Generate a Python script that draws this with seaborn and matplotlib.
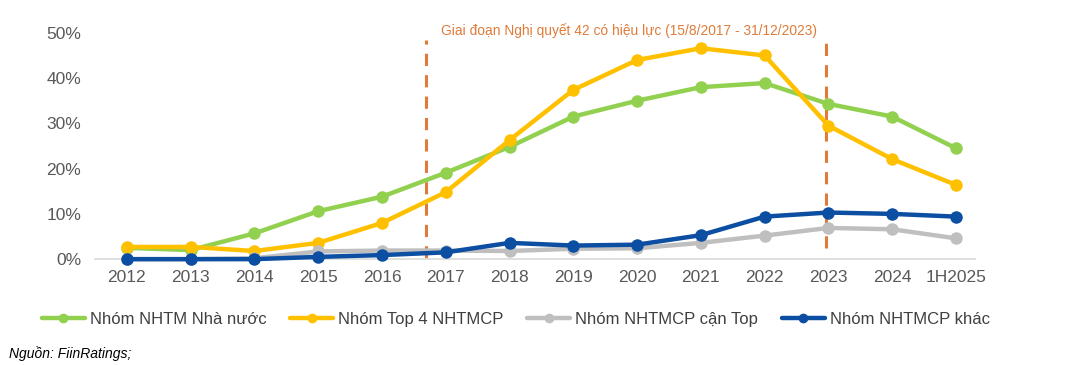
import matplotlib
matplotlib.use('Agg')
import matplotlib.pyplot as plt
import seaborn as sns
import pandas as pd

years = ['2012', '2013', '2014', '2015', '2016', '2017', '2018', '2019',
         '2020', '2021', '2022', '2023', '2024', '1H2025']

nha_nuoc = [2.5, 2.0, 5.7, 10.6, 13.8, 19.1, 24.8, 31.5, 35.0, 38.0, 38.9, 34.3, 31.5, 24.5]
top4 = [2.7, 2.7, 1.8, 3.6, 8.0, 14.8, 26.3, 37.4, 44.0, 46.6, 45.0, 29.5, 22.1, 16.4]
can_top = [0.0, 0.0, 0.2, 1.7, 1.9, 1.9, 1.8, 2.3, 2.4, 3.6, 5.2, 6.9, 6.6, 4.6]
khac = [0.0, 0.0, 0.0, 0.5, 0.9, 1.5, 3.6, 3.0, 3.2, 5.3, 9.4, 10.3, 10.0, 9.4]

groups = ['Nhóm NHTM Nhà nước', 'Nhóm Top 4 NHTMCP', 'Nhóm NHTMCP cận Top', 'Nhóm NHTMCP khác']
colors = ['#92D050', '#FFC000', '#BFBFBF', '#0B4EA2']

rows = []
for g, vals in zip(groups, [nha_nuoc, top4, can_top, khac]):
    for i, v in enumerate(vals):
        rows.append({'idx': i, 'val': v / 100, 'group': g})
df = pd.DataFrame(rows)

sns.set_style('white')
plt.rcParams['font.family'] = ['Liberation Sans', 'DejaVu Sans']

fig = plt.figure(figsize=(10.68, 3.65), dpi=100)
ax = fig.add_axes([0.089, 0.290, 0.824, 0.620])

# gray first so blue sits on top, like the original
order = [2, 0, 1, 3]
for k in order:
    sub = df[df.group == groups[k]]
    sns.lineplot(data=sub, x='idx', y='val', color=colors[k], marker='o',
                 markersize=9, markeredgewidth=0, linewidth=3.2, ax=ax,
                 legend=False, clip_on=False, zorder=3 + k)

# Nghi quyet 42 period markers
ax.plot([4.69, 4.69], [0.003, 0.485], color='#E07B39', linestyle=(0, (4, 3)),
        linewidth=2.2, clip_on=False, zorder=2)
ax.plot([10.97, 10.97], [0.025, 0.492], color='#E07B39', linestyle=(0, (4, 3)),
        linewidth=2.2, clip_on=False, zorder=2)
ax.text(4.92, 0.505, 'Giai đoạn Nghị quyết 42 có hiệu lực (15/8/2017 - 31/12/2023)',
        color='#E07B39', fontsize=9.9, va='center', ha='left')

ax.set_xlim(-0.5, 13.3)
ax.set_ylim(0, 0.5)
ax.set_xticks(range(len(years)))
ax.set_xticklabels(years)
ax.set_yticks([0, 0.1, 0.2, 0.3, 0.4, 0.5])
ax.set_yticklabels(['0%', '10%', '20%', '30%', '40%', '50%'])
ax.tick_params(axis='both', length=0, labelsize=12.5, colors='#595959')
ax.tick_params(axis='y', pad=10)
ax.tick_params(axis='x', pad=8)
ax.set_xlabel('')
ax.set_ylabel('')
for s in ['top', 'right', 'left']:
    ax.spines[s].set_visible(False)
ax.spines['bottom'].set_color('#D9D9D9')
ax.spines['bottom'].set_linewidth(1.2)

handles = [plt.Line2D([], [], color=c, marker='o', markersize=7, linewidth=3.2,
                      markeredgewidth=0) for c in colors]
fig.legend(handles, groups, loc='center', bbox_to_anchor=(0.483, 0.125), ncol=4,
           frameon=False, fontsize=12, handlelength=2.6, handletextpad=0.3,
           columnspacing=1.4, labelcolor='#404040')

fig.text(0.008, 0.02, 'Nguồn: FiinRatings;', fontsize=10, style='italic', color='black')

fig.savefig('out.png', dpi=100)
